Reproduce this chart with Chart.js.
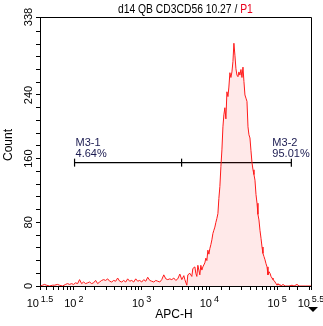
<!DOCTYPE html>
<html>
<head>
<meta charset="utf-8">
<script src="https://cdn.jsdelivr.net/npm/chart.js@4"></script>
<style>
  html, body { margin: 0; padding: 0; background: #fff; }
  #wrap { width: 323px; height: 326px; }
</style>
</head>
<body>
<div id="wrap"><canvas id="histChart" width="323" height="326"></canvas></div>
<script>
// APC-H histogram, channel position in log10 units and event count per bin
const logChannel = [
  1.507, 1.537, 1.567, 1.596, 1.641, 1.685, 1.714, 1.759, 1.788, 1.833,
  1.877, 1.907, 1.936, 1.966, 1.996, 2.025, 2.055, 2.084, 2.114, 2.144,
  2.173, 2.203, 2.232, 2.262, 2.291, 2.321, 2.351, 2.380, 2.410, 2.439,
  2.469, 2.499, 2.528, 2.558, 2.587, 2.617, 2.646, 2.676, 2.706, 2.735,
  2.765, 2.794, 2.824, 2.854, 2.883, 2.913, 2.942, 2.972, 3.001, 3.031,
  3.061, 3.090, 3.120, 3.149, 3.179, 3.209, 3.238, 3.268, 3.297, 3.327,
  3.357, 3.386, 3.416, 3.445, 3.475, 3.504, 3.534, 3.564, 3.593, 3.623,
  3.638, 3.667, 3.682, 3.712, 3.741, 3.756, 3.786, 3.800, 3.815, 3.830,
  3.845, 3.859, 3.874, 3.889, 3.904, 3.933, 3.948, 3.963, 3.978, 3.993,
  4.007, 4.022, 4.037, 4.052, 4.066, 4.081, 4.096, 4.111, 4.126, 4.140,
  4.155, 4.170, 4.185, 4.200, 4.214, 4.229, 4.244, 4.259, 4.274, 4.288,
  4.303, 4.318, 4.333, 4.348, 4.362, 4.377, 4.392, 4.407, 4.422, 4.436,
  4.451, 4.466, 4.481, 4.496, 4.510, 4.525, 4.540, 4.555, 4.570, 4.584,
  4.599, 4.614, 4.629, 4.644, 4.658, 4.673, 4.688, 4.703, 4.717, 4.732,
  4.747, 4.762, 4.777, 4.791, 4.806, 4.821, 4.836, 4.851, 4.865, 4.880,
  4.895, 4.910, 4.925, 4.939, 4.954, 4.969, 4.984, 4.999, 5.013, 5.028,
  5.043, 5.058, 5.087, 5.117, 5.176, 5.220, 5.250, 5.294, 5.324, 5.413,
  5.500
];
const counts = [
  0, 1, 2, 1, 0, 1, 1, 2, 1, 0,
  2, 3, 2, 3, 2, 4, 3, 8, 3, 5,
  3, 4, 5, 3, 4, 7, 3, 5, 7, 8,
  7, 9, 6, 5, 7, 6, 10, 6, 5, 7,
  5, 9, 6, 7, 5, 9, 6, 7, 5, 8,
  6, 11, 7, 6, 5, 7, 6, 5, 8, 14,
  9, 8, 9, 8, 10, 7, 9, 15, 8, 13,
  8, 1, 14, 16, 12, 22, 24, 16, 12, 26,
  20, 14, 26, 20, 24, 29, 35, 32, 45, 40,
  47, 52, 58, 66, 70, 74, 80, 85, 91, 110,
  125, 150, 171, 200, 215, 224, 210, 244, 238, 250,
  268, 262, 269, 282, 305, 290, 273, 265, 263, 269,
  265, 272, 262, 275, 257, 240, 236, 232, 200, 190,
  186, 170, 155, 146, 140, 133, 115, 104, 90, 83,
  70, 60, 49, 41, 37, 33, 28, 24, 14, 18,
  16, 12, 10, 8, 7, 5, 3, 1, 3, 1,
  2, 0, 2, 0, 0, 1, 0, 2, 0, 0,
  0
];

// axes
const xRangeLog = [1.5, 5.5];
const xLabelPowers = ['1.5', '2', '3', '4', '5', '5.5'];
const yMax = 338;
const yMajorTicks = [0, 80, 160, 240, 338];
const yMinorTicks = [16, 32, 48, 64, 96, 112, 128, 144, 176, 192, 208, 224, 256, 272, 288, 304, 320];

// marker gates
const gateEdges = [2.01, 3.59, 5.21];
const gateLevel = 155;
const gateNames = ['M3-1', 'M3-2'];
const gatePercents = ['4.64%', '95.01%'];

const FONT = '"Liberation Sans", Arial, sans-serif';

const histPoints = logChannel.map((e, i) => ({ x: Math.pow(10, e), y: counts[i] }));
const gatePoints = gateEdges.map(e => ({ x: Math.pow(10, e), y: gateLevel }));

const overlay = {
  id: 'overlay',
  afterDraw(chart) {
    const { ctx, chartArea: a, scales: { x, y } } = chart;
    ctx.save();

    // frame top & right
    ctx.strokeStyle = '#000';
    ctx.lineWidth = 1;
    ctx.beginPath();
    ctx.moveTo(a.left, a.top + 0.5);
    ctx.lineTo(a.right + 0.5, a.top + 0.5);
    ctx.lineTo(a.right + 0.5, a.bottom);
    ctx.stroke();

    // title (slightly condensed, like the original UI font)
    ctx.textBaseline = 'alphabetic';
    ctx.textAlign = 'left';
    ctx.font = '12px ' + FONT;
    const t1 = 'd14 QB CD3CD56 10.27 / ';
    ctx.save();
    ctx.translate(118, 13);
    ctx.scale(0.86, 1);
    ctx.fillStyle = '#000';
    ctx.fillText(t1, 0, 0);
    ctx.fillStyle = '#e8001c';
    ctx.fillText('P1', ctx.measureText(t1).width, 0);
    ctx.restore();

    // x tick labels 10^n
    ctx.fillStyle = '#000';
    xLabelPowers.forEach(p => {
      const px = x.getPixelForValue(Math.pow(10, parseFloat(p)));
      ctx.font = '11px ' + FONT;
      const wBase = ctx.measureText('10').width;
      ctx.font = '9px ' + FONT;
      const wSup = ctx.measureText(p).width;
      const left = px - (wBase + 2 + wSup) / 2;
      ctx.font = '11px ' + FONT;
      ctx.fillText('10', left, 307);
      ctx.font = '9px ' + FONT;
      ctx.fillText(p, left + wBase + 2, 302);
    });

    // y tick labels, rotated
    ctx.font = '11px ' + FONT;
    ctx.textAlign = 'center';
    ctx.textBaseline = 'bottom';
    yMajorTicks.forEach(v => {
      const py = y.getPixelForValue(v);
      ctx.save();
      ctx.translate(34, py);
      ctx.rotate(-Math.PI / 2);
      ctx.fillText(String(v), 0, 0);
      ctx.restore();
    });

    // axis titles
    ctx.font = '12px ' + FONT;
    ctx.save();
    ctx.translate(15, 145);
    ctx.rotate(-Math.PI / 2);
    ctx.fillText('Count', 0, 0);
    ctx.restore();
    ctx.textBaseline = 'alphabetic';
    ctx.fillText('APC-H', 174, 318);

    // gate labels
    ctx.textAlign = 'left';
    ctx.font = '11px ' + FONT;
    ctx.fillStyle = '#1a1a50';
    const gy = y.getPixelForValue(gateLevel);
    const g0 = x.getPixelForValue(gatePoints[0].x);
    const g2 = x.getPixelForValue(gatePoints[2].x);
    ctx.fillText(gateNames[0], g0 + 1, gy - 17);
    ctx.fillText(gatePercents[0], g0 + 1, gy - 6);
    ctx.fillText(gateNames[1], g2 - 19, gy - 17);
    ctx.fillText(gatePercents[1], g2 - 19, gy - 6);

    // small menu triangle
    ctx.fillStyle = '#000';
    ctx.beginPath();
    ctx.moveTo(308, 307);
    ctx.lineTo(318, 307);
    ctx.lineTo(313, 312);
    ctx.closePath();
    ctx.fill();

    ctx.restore();
  }
};

const ctx = document.getElementById('histChart').getContext('2d');
new Chart(ctx, {
  type: 'line',
  data: {
    datasets: [
      {
        label: 'APC-H',
        data: histPoints,
        borderColor: '#ff1a1a',
        borderWidth: 1,
        backgroundColor: 'rgba(255, 40, 40, 0.1)',
        fill: 'origin',
        pointRadius: 0,
        tension: 0
      },
      {
        label: 'M3',
        data: gatePoints,
        borderColor: '#000',
        borderWidth: 1.3,
        fill: false,
        pointStyle: 'line',
        rotation: 90,
        pointRadius: 4,
        pointBorderColor: '#000',
        pointBorderWidth: 1.2
      }
    ]
  },
  options: {
    responsive: false,
    animation: false,
    events: [],
    layout: { padding: { top: 17, right: 12, left: 0, bottom: 0 } },
    plugins: {
      legend: { display: false },
      title: { display: false },
      tooltip: { enabled: false }
    },
    scales: {
      x: {
        type: 'logarithmic',
        min: Math.pow(10, xRangeLog[0]),
        max: Math.pow(10, xRangeLog[1]),
        grid: { drawOnChartArea: false, tickLength: 4, color: '#000' },
        border: { color: '#000' },
        ticks: { display: false, autoSkip: false },
        afterFit(scale) { scale.height = 40; }
      },
      y: {
        min: 0,
        max: yMax,
        grid: { drawOnChartArea: false, tickLength: 4, color: '#000' },
        border: { color: '#000' },
        ticks: { display: false, autoSkip: false },
        afterBuildTicks(scale) {
          scale.ticks = yMajorTicks.concat(yMinorTicks).sort((a, b) => a - b).map(v => ({ value: v }));
        },
        afterFit(scale) { scale.width = 40; }
      }
    }
  },
  plugins: [overlay]
});
</script>
</body>
</html>
